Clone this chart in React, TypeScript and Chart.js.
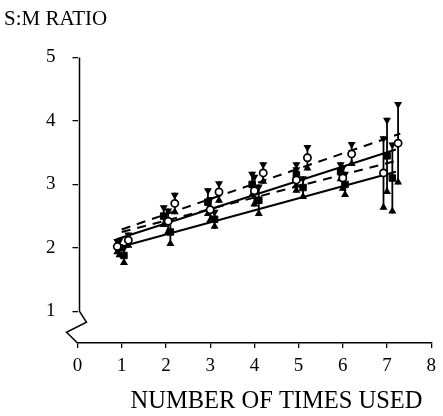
import React, { useEffect, useRef } from 'react';
import { Chart, registerables } from 'chart.js';

Chart.register(...registerables);

const FONT = "'Liberation Serif', 'Times New Roman', serif";

const xTickValues = [0, 1, 2, 3, 4, 5, 6, 7, 8];
const yTickValues = [1, 2, 3, 4, 5];
const yTitle = 'S:M RATIO';
const xTitle = 'NUMBER OF TIMES USED';

// Open symbols, upper group (dashed fit)
const openHighX = [1.15, 2.2, 3.2, 4.2, 5.2, 6.2, 7.25];
const openHighY = [2.12, 2.7, 2.88, 3.18, 3.42, 3.48, 3.65];
const openHighErr = [0.12, 0.17, 0.17, 0.17, 0.2, 0.19, 0.65];

// Filled symbols, upper group (solid fit)
const filledHighX = [0.95, 1.95, 2.95, 3.95, 4.95, 5.95, 7.0];
const filledHighY = [2.0, 2.5, 2.72, 3.0, 3.15, 3.2, 3.45];
const filledHighErr = [0.15, 0.17, 0.22, 0.2, 0.2, 0.15, 0.6];

// Open symbols, lower group (dashed fit)
const openLowX = [0.9, 2.05, 3.0, 4.0, 4.95, 6.0, 6.92];
const openLowY = [2.02, 2.42, 2.6, 2.9, 3.07, 3.1, 3.18];
const openLowErr = [0.12, 0.2, 0.2, 0.25, 0.2, 0.2, 0.58];

// Filled symbols, lower group (solid fit)
const filledLowX = [1.05, 2.1, 3.1, 4.1, 5.1, 6.05, 7.12];
const filledLowY = [1.88, 2.25, 2.45, 2.75, 2.95, 3.0, 3.1];
const filledLowErr = [0.15, 0.22, 0.15, 0.25, 0.18, 0.2, 0.56];

// Regression lines (end points)
const fitOpenHighX = [1.0, 7.3];
const fitOpenHighY = [2.29, 3.8];
const fitFilledHighX = [0.9, 7.2];
const fitFilledHighY = [2.14, 3.55];
const fitOpenLowX = [1.0, 7.2];
const fitOpenLowY = [2.25, 3.37];
const fitFilledLowX = [0.9, 7.2];
const fitFilledLowY = [2.0, 3.2];

const toPts = (xs: number[], ys: number[]) => xs.map((x, i) => ({ x, y: ys[i] }));

const errorBarPlugin = {
  id: 'errorBars',
  beforeDatasetsDraw(chart: any) {
    const { ctx } = chart;
    const xs = chart.scales.x;
    const ys = chart.scales.y;
    ctx.save();
    chart.data.datasets.forEach((ds: any) => {
      if (!ds.errors) return;
      ds.data.forEach((p: any, i: number) => {
        const e = ds.errors[i];
        const px = xs.getPixelForValue(p.x);
        const top = ys.getPixelForValue(p.y + e);
        const bot = ys.getPixelForValue(p.y - e);
        ctx.strokeStyle = '#000';
        ctx.fillStyle = '#000';
        ctx.lineWidth = 1.8;
        ctx.beginPath();
        ctx.moveTo(px, top);
        ctx.lineTo(px, bot);
        ctx.stroke();
        const w = 4;
        const h = 7;
        ctx.beginPath();
        ctx.moveTo(px - w, top);
        ctx.lineTo(px + w, top);
        ctx.lineTo(px, top + h);
        ctx.closePath();
        ctx.fill();
        ctx.beginPath();
        ctx.moveTo(px - w, bot);
        ctx.lineTo(px + w, bot);
        ctx.lineTo(px, bot - h);
        ctx.closePath();
        ctx.fill();
      });
    });
    ctx.restore();
  },
};

const axesPlugin = {
  id: 'axesDeco',
  afterDraw(chart: any) {
    const { ctx, chartArea } = chart;
    const ys = chart.scales.y;
    const L = chartArea.left + 2;
    const yTop = ys.getPixelForValue(5);
    const yBreak = ys.getPixelForValue(1);
    const B = chartArea.bottom;
    ctx.save();
    ctx.strokeStyle = '#000';
    ctx.lineWidth = 1.5;
    ctx.beginPath();
    ctx.moveTo(L, yTop);
    ctx.lineTo(L, yBreak);
    ctx.lineTo(L + 7, yBreak + 11);
    ctx.lineTo(L - 13, yBreak + 21);
    ctx.lineTo(L - 2, B);
    ctx.stroke();

    ctx.fillStyle = '#000';
    ctx.textBaseline = 'middle';
    ctx.textAlign = 'left';
    ctx.font = `21px ${FONT}`;
    ctx.fillText(yTitle, 4, 19);
    ctx.textAlign = 'center';
    ctx.font = `24.5px ${FONT}`;
    ctx.fillText(xTitle, 276.5, 402);
    ctx.restore();
  },
};

export default function App() {
  const ref = useRef<HTMLCanvasElement>(null);
  useEffect(() => {
    if (!ref.current) return;
    const openStyle = {
      pointStyle: 'circle',
      pointRadius: 3.6,
      pointBackgroundColor: '#fff',
      pointBorderColor: '#000',
      pointBorderWidth: 1.7,
      showLine: false,
    };
    const filledStyle = {
      pointStyle: 'rect',
      pointRadius: 4.6,
      pointBackgroundColor: '#000',
      pointBorderColor: '#000',
      pointBorderWidth: 1,
      showLine: false,
    };
    const fitStyle = (dashed: boolean) => ({
      showLine: true,
      borderColor: '#000',
      borderWidth: 2,
      borderDash: dashed ? [9, 7] : [],
      pointRadius: 0,
      fill: false,
    });
    const chart = new Chart(ref.current, {
      type: 'scatter',
      data: {
        datasets: [
          { label: 'open high', data: toPts(openHighX, openHighY), errors: openHighErr, ...openStyle } as any,
          { label: 'open low', data: toPts(openLowX, openLowY), errors: openLowErr, ...openStyle } as any,
          { label: 'filled high', data: toPts(filledHighX, filledHighY), errors: filledHighErr, ...filledStyle } as any,
          { label: 'filled low', data: toPts(filledLowX, filledLowY), errors: filledLowErr, ...filledStyle } as any,
          { label: 'fit open high', data: toPts(fitOpenHighX, fitOpenHighY), ...fitStyle(true) } as any,
          { label: 'fit open low', data: toPts(fitOpenLowX, fitOpenLowY), ...fitStyle(true) } as any,
          { label: 'fit filled high', data: toPts(fitFilledHighX, fitFilledHighY), ...fitStyle(false) } as any,
          { label: 'fit filled low', data: toPts(fitFilledLowX, fitFilledLowY), ...fitStyle(false) } as any,
        ],
      },
      options: {
        animation: false,
        responsive: false,
        maintainAspectRatio: false,
        layout: { padding: { top: 57.5, right: 10.5, left: 0, bottom: 0 } },
        plugins: { legend: { display: false }, tooltip: { enabled: false }, title: { display: false } },
        scales: {
          x: {
            type: 'linear',
            min: 0,
            max: 8,
            afterBuildTicks: (axis: any) => {
              axis.ticks = xTickValues.map((v) => ({ value: v }));
            },
            afterFit: (scale: any) => {
              scale.height = 73;
            },
            border: { display: true, color: '#000', width: 1.6 },
            grid: { drawOnChartArea: false, drawTicks: true, tickLength: 5, color: '#000', lineWidth: 1.3 },
            ticks: {
              color: '#000',
              font: { family: FONT, size: 19 },
              padding: 7,
              maxRotation: 0,
              autoSkip: false,
              callback: (v: any) => String(v),
            },
          },
          y: {
            type: 'linear',
            min: 0.5,
            max: 5,
            afterBuildTicks: (axis: any) => {
              axis.ticks = yTickValues.map((v) => ({ value: v }));
            },
            afterFit: (scale: any) => {
              scale.width = 77.5;
            },
            border: { display: false },
            grid: { drawOnChartArea: false, drawTicks: true, tickLength: 5, color: '#000', lineWidth: 1.3 },
            ticks: {
              color: '#000',
              font: { family: FONT, size: 19 },
              padding: 17,
              autoSkip: false,
              callback: (v: any) => String(v),
            },
          },
        },
      } as any,
      plugins: [errorBarPlugin, axesPlugin],
    });
    return () => chart.destroy();
  }, []);
  return (
    <div style={{ position: 'absolute', left: 0, top: 0, width: 443, height: 416, background: '#fff' }}>
      <canvas ref={ref} width={443} height={416} style={{ width: 443, height: 416, display: 'block' }} />
    </div>
  );
}
